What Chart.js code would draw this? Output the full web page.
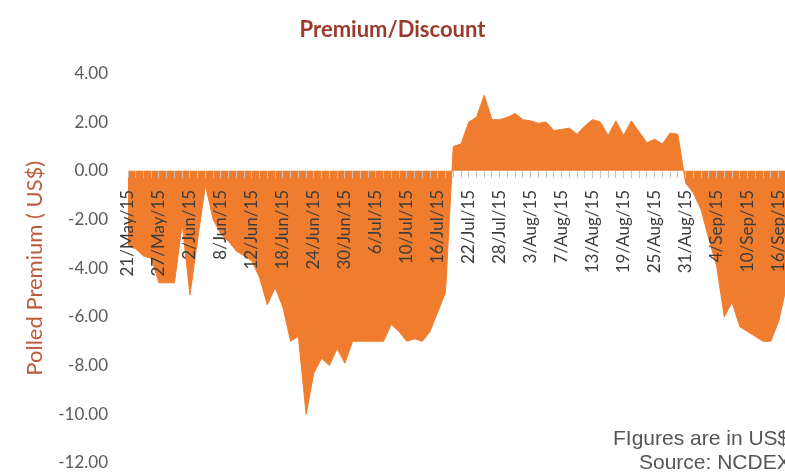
<!DOCTYPE html>
<html>
<head>
<meta charset="utf-8">
<script src="https://cdn.jsdelivr.net/npm/chart.js@4.4.1/dist/chart.umd.min.js"></script>
<style>
  html, body { margin: 0; padding: 0; background: #ffffff; overflow: hidden; width: 785px; height: 473px; }
  #wrap { position: relative; width: 794px; height: 473px; }
  #note { position: absolute; left: 613px; top: 426px; font-family: "Liberation Sans", Arial, sans-serif; font-size: 21px; line-height: 24px; color: #555555; white-space: nowrap; }
  #note div.l2 { padding-left: 26px; }
</style>
</head>
<body>
<div id="wrap">
  <canvas id="c" width="794" height="473"></canvas>
  <div id="note"><div>FIgures are in US$</div><div class="l2">Source: NCDEX</div></div>
</div>
<script>
// ---- data ----
const categories = [
  "21/May/15","22/May/15","25/May/15","26/May/15","27/May/15","28/May/15","29/May/15",
  "1/Jun/15","2/Jun/15","3/Jun/15","4/Jun/15","5/Jun/15","8/Jun/15","9/Jun/15","10/Jun/15","11/Jun/15","12/Jun/15",
  "15/Jun/15","16/Jun/15","17/Jun/15","18/Jun/15","19/Jun/15","22/Jun/15","23/Jun/15","24/Jun/15","25/Jun/15","26/Jun/15",
  "29/Jun/15","30/Jun/15","1/Jul/15","2/Jul/15","3/Jul/15","6/Jul/15","7/Jul/15","8/Jul/15","9/Jul/15","10/Jul/15",
  "13/Jul/15","14/Jul/15","15/Jul/15","16/Jul/15","17/Jul/15","20/Jul/15","21/Jul/15","22/Jul/15","23/Jul/15","24/Jul/15",
  "27/Jul/15","28/Jul/15","29/Jul/15","30/Jul/15","31/Jul/15","3/Aug/15","4/Aug/15","5/Aug/15","6/Aug/15","7/Aug/15",
  "10/Aug/15","11/Aug/15","12/Aug/15","13/Aug/15","14/Aug/15","17/Aug/15","18/Aug/15","19/Aug/15","20/Aug/15","21/Aug/15",
  "24/Aug/15","25/Aug/15","26/Aug/15","27/Aug/15","28/Aug/15","31/Aug/15","1/Sep/15","2/Sep/15","3/Sep/15","4/Sep/15",
  "7/Sep/15","8/Sep/15","9/Sep/15","10/Sep/15","11/Sep/15","14/Sep/15","15/Sep/15","16/Sep/15","17/Sep/15","18/Sep/15"
];
const premium = [
  -3.1, -3.2, -3.5, -3.6, -4.6, -4.6, -4.6,
  -2.2, -5.1, -2.8, -0.6, -2.0, -2.6, -2.9, -3.3, -3.5, -3.7,
  -4.4, -5.5, -4.8, -5.6, -7.0, -6.8, -10.0, -8.3, -7.7, -8.0,
  -7.3, -7.9, -7.0, -7.0, -7.0, -7.0, -7.0, -6.3, -6.6, -7.0,
  -6.9, -7.0, -6.6, -5.8, -5.0, 1.0, 1.1, 2.0, 2.2, 3.1,
  2.1, 2.1, 2.2, 2.35, 2.1, 2.05, 1.95, 2.0, 1.65, 1.7,
  1.75, 1.5, 1.85, 2.1, 2.0, 1.45, 2.05, 1.45, 2.05, 1.6,
  1.15, 1.3, 1.1, 1.55, 1.5, -0.5, -0.9, -1.6, -2.8, -3.9,
  -6.0, -5.4, -6.4, -6.6, -6.8, -7.0, -7.0, -6.2, -4.8, -4.0
];
const labelEvery = 4;
const yMin = -12, yMax = 4, yStep = 2;
const chartTitle = "Premium/Discount";
const yTitle = "Polled Premium ( US$)";
const visibleWidth = 785;

// keep the title centred on the visible part of the page
const titleCentre = {
  id: 'titleCentre',
  afterLayout(chart) {
    if (chart.titleBlock) {
      chart.titleBlock.left = 0;
      chart.titleBlock.right = visibleWidth;
      chart.titleBlock.width = visibleWidth;
    }
  }
};

new Chart(document.getElementById('c'), {
  type: 'line',
  plugins: [titleCentre],
  data: {
    labels: categories,
    datasets: [{
      data: premium,
      fill: 'origin',
      backgroundColor: '#F07D2E',
      borderColor: '#F07D2E',
      borderWidth: 1,
      pointRadius: 0,
      tension: 0
    }]
  },
  options: {
    responsive: false,
    animation: false,
    layout: { padding: { left: 0, right: 0, top: 0, bottom: 10 } },
    plugins: {
      legend: { display: false },
      tooltip: { enabled: false },
      title: {
        display: true,
        text: chartTitle,
        color: '#9A3B2C',
        font: { family: 'Lato', size: 22, weight: 'bold' },
        padding: { top: 17, bottom: 30 }
      }
    },
    scales: {
      x: {
        type: 'category',
        position: { y: 0 },
        z: 1,
        offset: false,
        border: { display: false, z: 1 },
        grid: { display: true, z: 1, drawOnChartArea: false, drawTicks: true, tickLength: 7, color: '#c4c4c4', tickColor: '#c4c4c4' },
        afterFit: function(scale) { scale.paddingLeft = 0; scale.paddingRight = 0; },
        ticks: {
          z: 1,
          autoSkip: false,
          maxRotation: 90,
          minRotation: 90,
          padding: 12,
          color: '#3c3c3c',
          font: { family: 'Lato', size: 17 },
          callback: function(v, i) { return i % labelEvery === 0 ? categories[i] : ''; }
        }
      },
      y: {
        min: yMin,
        max: yMax,
        border: { display: false },
        grid: { display: false, drawTicks: false },
        afterFit: function(scale) { scale.width = 128; scale.paddingTop = 10; scale.paddingBottom = 10; },
        ticks: {
          stepSize: yStep,
          padding: 20,
          color: '#5a5a5a',
          font: { family: 'Lato', size: 17 },
          callback: function(v) { return Number(v).toFixed(2); }
        },
        title: {
          display: true,
          text: yTitle,
          color: '#BE5A3C',
          font: { family: 'Lato', size: 22 },
          padding: { top: 22, bottom: 0 }
        }
      }
    }
  }
});
</script>
</body>
</html>
